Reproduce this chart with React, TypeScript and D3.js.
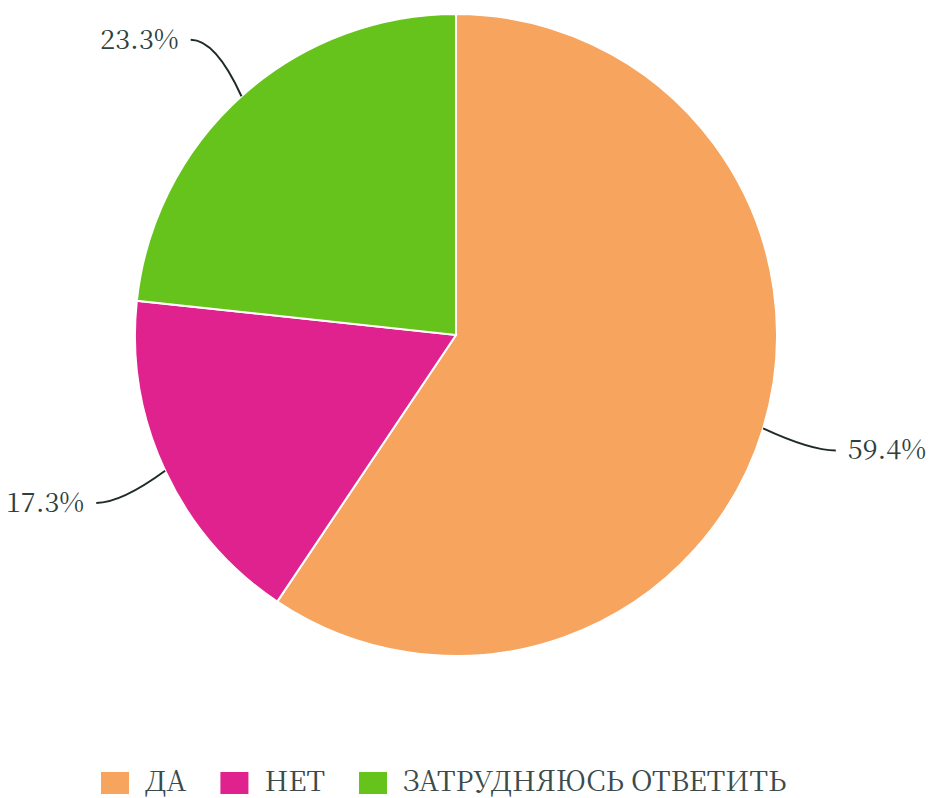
import React, { useEffect, useRef } from "react";
import * as d3 from "d3";

const categories = ["ДА", "НЕТ", "ЗАТРУДНЯЮСЬ ОТВЕТИТЬ"];
const values = [59.4, 17.3, 23.3];
const labels = ["59.4%", "17.3%", "23.3%"];
const colors = ["#F6A45E", "#E0228E", "#66C31B"];

const W = 935;
const H = 798;
const FONT = '"Noto Serif CJK SC", "Liberation Serif", serif';

export default function App() {
  const ref = useRef<SVGSVGElement | null>(null);

  useEffect(() => {
    const svg = d3.select(ref.current);
    svg.selectAll("*").remove();

    const cx = 456;
    const cy = 335;
    const r = 321;

    const data = categories.map((c, i) => ({ c, v: values[i], label: labels[i], color: colors[i] }));
    const pie = d3.pie<any>().value((d: any) => d.v).sort(null);
    const arcs = pie(data);
    const arc = d3.arc<any>().innerRadius(0).outerRadius(r);

    const g = svg.append("g").attr("transform", `translate(${cx},${cy})`);
    g.selectAll("path.slice")
      .data(arcs)
      .join("path")
      .attr("class", "slice")
      .attr("d", arc as any)
      .attr("fill", (d: any) => d.data.color)
      .attr("stroke", "#ffffff")
      .attr("stroke-width", 2);

    arcs.forEach((a: any) => {
      const mid = (a.startAngle + a.endAngle) / 2;
      const dx = Math.sin(mid);
      const dy = -Math.cos(mid);
      const sign = dx >= 0 ? 1 : -1;
      const p0 = [dx * r, dy * r];
      const p2 = [dx * (r + 76), dy * (r + 76)];
      const c = [p2[0] - sign * 25, p2[1]];
      const path = d3.path();
      path.moveTo(p0[0], p0[1]);
      path.quadraticCurveTo(c[0], c[1], p2[0], p2[1]);
      g.append("path")
        .attr("d", path.toString())
        .attr("fill", "none")
        .attr("stroke", "#1f2a2a")
        .attr("stroke-width", 2);
      g.append("text")
        .attr("x", p2[0] + (sign > 0 ? 12 : -12))
        .attr("y", p2[1] + 2)
        .attr("text-anchor", sign > 0 ? "start" : "end")
        .attr("dominant-baseline", "middle")
        .style("font-family", FONT)
        .style("font-size", "27px")
        .attr("fill", "#2e3f3f")
        .text(a.data.label);
    });

    const lg = svg.append("g").attr("transform", `translate(0, 783)`);
    let x = 101;
    data.forEach((d) => {
      lg.append("rect")
        .attr("x", x)
        .attr("y", -11)
        .attr("width", 28)
        .attr("height", 22)
        .attr("fill", d.color);
      const t = lg
        .append("text")
        .attr("x", x + 44)
        .attr("y", 1)
        .attr("dominant-baseline", "middle")
        .style("font-family", FONT)
        .style("font-size", "28px")
        .attr("fill", "#3a4b4b")
        .text(d.c);
      const w = (t.node() as SVGTextElement).getComputedTextLength();
      x = x + 44 + w + 34;
    });
  }, []);

  return (
    <svg
      ref={ref}
      width={W}
      height={H}
      style={{ position: "absolute", left: 0, top: 0, background: "#ffffff" }}
    />
  );
}
